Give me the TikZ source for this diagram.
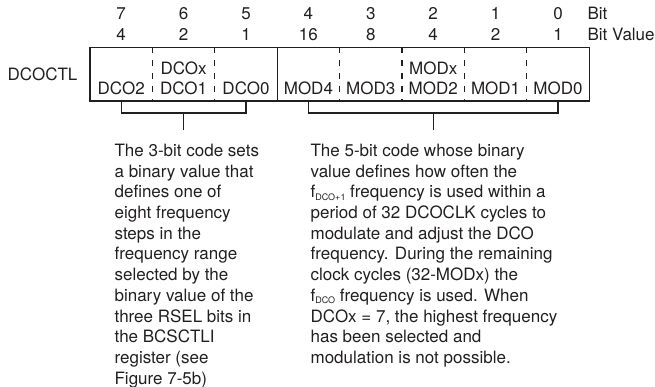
\documentclass[tikz,border=0pt]{standalone}
\usepackage{fontspec}
\setmainfont{TeX Gyre Heros}
\usetikzlibrary{positioning,calc}
\definecolor{ink}{HTML}{231F20}
\newcommand{\lowsub}[1]{\raisebox{-2.5pt}{\fontsize{9}{9}\selectfont #1}}

\begin{document}
\begin{tikzpicture}[x=1pt,y=-1pt,line width=1.2pt,color=ink,
  font=\fontsize{17}{20.7}\selectfont,
  cell/.style={minimum width=62.4pt,minimum height=53.5pt,inner sep=0pt,outer sep=0pt},
  lbl/.style={anchor=base,inner sep=0pt},
  divider/.style={dash pattern=on 5.5pt off 7.5pt},
  note/.style={align=left,anchor=north west,inner sep=0pt}]
\useasboundingbox (0,0) rectangle (655,387);
% register cells with bit numbers and bit values
\foreach \b/\v/\n [count=\k from 0] in {7/4/DCO2,6/2/DCO1,5/1/DCO0,4/16/MOD4,3/8/MOD3,2/4/MOD2,1/2/MOD1,0/1/MOD0}{
  \pgfmathsetmacro\cx{121.2+62.4*\k}
  \node[cell] (c\b) at (\cx,74.25) {};
  \node[lbl] (f\b) at (\cx,95) {\n};
  \node[lbl] (v\b) at (\cx,40.5) {\v};
  \node[lbl] (b\b) at (\cx,19.5) {\b};
}
\node[lbl] (dcox) at ($(c6)+(0,0.75)$) {DCOx};
\node[lbl] (modx) at ($(c2)+(0,0.75)$) {MODx};
\node[lbl,anchor=base west] (bit) at (587,19.5) {Bit};
\node[lbl,anchor=base west] (bitval) at (587,40.5) {Bit Value};
\node[left=12pt of c7,inner sep=0pt] (reg) {DCOCTL};
\draw (c7.north west) rectangle (c0.south east);
\draw (c5.north east) -- (c5.south east);
\foreach \a in {7,6,4,3,2,1}
  \draw[divider] (c\a.north east) -- (c\a.south east);
% brackets
\draw (c7.south) -- ++(0,12) -| (c5.south);
\draw (c6.south) ++(0,12) -- ++(0,17) coordinate (dcoend);
\draw (c4.south) -- ++(0,12) -| (c0.south);
\draw (c2.south) ++(0,12) -- ++(0,17) coordinate (modend);
\node[note] (dcotxt) at (114,143.5) {The 3-bit code sets\\a binary value that\\defines one of\\eight frequency\\steps in the\\frequency range\\selected by the\\binary value of the\\three RSEL bits in\\the BCSCTLI\\register (see\\Figure 7-5b)};
\node[note] (modtxt) at (310,143.5) {The 5-bit code whose binary\\value defines how often the\\f\lowsub{DCO+1} frequency is used within a\\period of 32 DCOCLK cycles to\\modulate and adjust the DCO\\frequency. During the remaining\\clock cycles (32-MODx) the\\f\lowsub{DCO} frequency is used. When\\DCOx = 7, the highest frequency\\has been selected and\\modulation is not possible.};
\end{tikzpicture}
\end{document}
